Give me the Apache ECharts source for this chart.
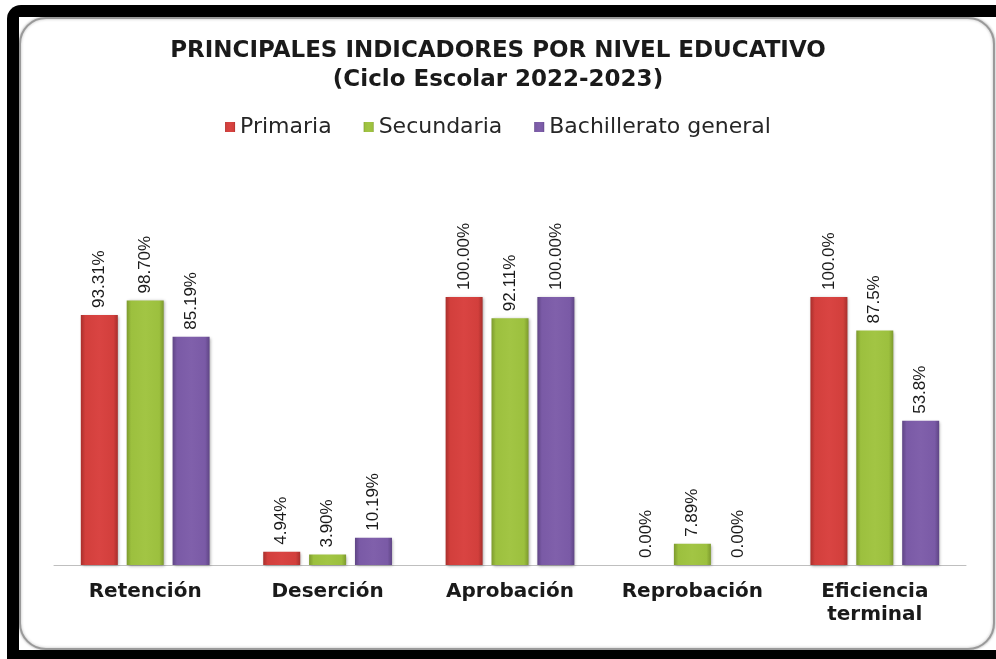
<!DOCTYPE html>
<html><head><meta charset="utf-8">
<script src="https://cdn.jsdelivr.net/npm/echarts@6/dist/echarts.min.js"></script>
<style>html,body{margin:0;padding:0;background:#fff;}#c{width:996px;height:659px;}</style>
</head><body><div id="c"></div>
<script>
const categories = ['Retención', 'Deserción', 'Aprobación', 'Reprobación', 'Eficiencia\nterminal'];
const seriesNames = ['Primaria', 'Secundaria', 'Bachillerato general'];
const primaria = [93.31, 4.94, 100.00, 0.00, 100.0];
const secundaria = [98.70, 3.90, 92.11, 7.89, 87.5];
const bachillerato = [85.19, 10.19, 100.00, 0.00, 53.8];
const primariaLabels = ['93.31%', '4.94%', '100.00%', '0.00%', '100.0%'];
const secundariaLabels = ['98.70%', '3.90%', '92.11%', '7.89%', '87.5%'];
const bachilleratoLabels = ['85.19%', '10.19%', '100.00%', '0.00%', '53.8%'];

const chart = echarts.init(document.getElementById('c'));

function grad(dark, mid, light) {
  return new echarts.graphic.LinearGradient(0, 0, 1, 0, [
    {offset: 0, color: dark}, {offset: 0.12, color: mid}, {offset: 0.5, color: light},
    {offset: 0.88, color: mid}, {offset: 1, color: dark}
  ]);
}
const styles = [
  {c: grad('#a82f2c', '#d23f3c', '#d94442'), legend: '#d23f3c'},
  {c: grad('#7d9a2e', '#9cc03e', '#a2c544'), legend: '#9cc03e'},
  {c: grad('#5f4585', '#7a5aa6', '#8060ab'), legend: '#7a5aa6'}
];
const vals = [primaria, secundaria, bachillerato];
const labs = [primariaLabels, secundariaLabels, bachilleratoLabels];

const series = seriesNames.map((n, i) => ({
  name: n,
  type: 'bar',
  barWidth: 37,
  barGap: '24%',
  data: vals[i].map((v, j) => ({value: v, label: {formatter: labs[i][j]}})),
  itemStyle: {color: styles[i].c, shadowColor: 'rgba(0,0,0,0.35)', shadowBlur: 3, shadowOffsetX: 1, shadowOffsetY: 1},
  label: {
    show: true, position: 'top', distance: 7, rotate: 90, align: 'left', verticalAlign: 'middle',
    fontFamily: 'Liberation Sans', fontSize: 17, color: '#1a1a1a'
  }
}));

chart.setOption({
  backgroundColor: '#fff',
  animation: false,
  color: styles.map(s => s.legend),
  title: {
    text: 'PRINCIPALES INDICADORES POR NIVEL EDUCATIVO\n(Ciclo Escolar 2022-2023)',
    left: 'center', top: 32,
    textStyle: {fontFamily: 'DejaVu Sans', fontWeight: 'bold', fontSize: 23, lineHeight: 29, color: '#1a1a1a'}
  },
  legend: {
    top: 111, left: 'center', icon: 'rect', itemWidth: 10, itemHeight: 10, itemGap: 32,
    textStyle: {fontFamily: 'DejaVu Sans', fontSize: 22, color: '#262626'}
  },
  grid: {left: 54, right: 30, top: 297, bottom: 94, containLabel: false},
  xAxis: {
    type: 'category', data: categories,
    axisLine: {lineStyle: {color: '#bfbfbf', width: 1}},
    axisTick: {show: false},
    axisLabel: {interval: 0, margin: 15, fontFamily: 'DejaVu Sans', fontWeight: 'bold', fontSize: 20, lineHeight: 23, color: '#1a1a1a'}
  },
  yAxis: {type: 'value', min: 0, max: 100, show: false, splitLine: {show: false}},
  graphic: [
    {type: 'rect', z: -10, silent: true, shape: {x: 7, y: 5, width: 989, height: 654, r: [14, 0, 0, 0]}, style: {fill: '#000'}},
    {type: 'rect', z: -9, silent: true, shape: {x: 19, y: 17, width: 977, height: 633}, style: {fill: '#fff'}},
    {type: 'rect', z: -8, silent: true, shape: {x: 20, y: 18, width: 974, height: 631, r: 26},
      style: {fill: '#fff', stroke: '#9a9a9a', lineWidth: 2, shadowColor: 'rgba(0,0,0,0.3)', shadowBlur: 3}}
  ],
  series: series
});
</script></body></html>
